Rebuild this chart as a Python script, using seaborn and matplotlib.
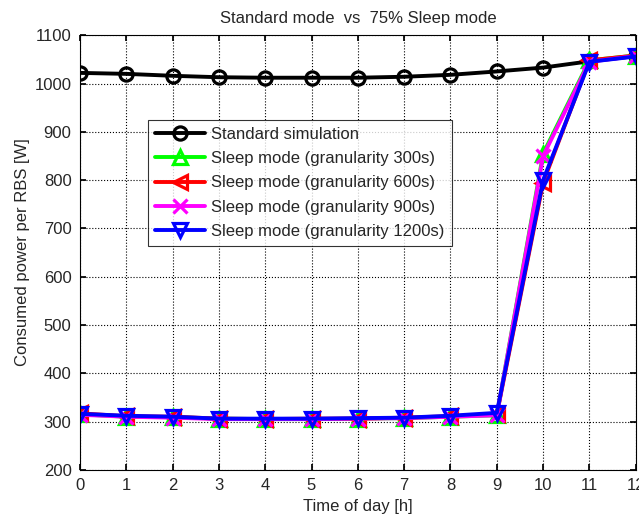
import numpy as np
import pandas as pd
import seaborn as sns
import matplotlib.pyplot as plt

sns.set_theme(style="white")
plt.rcParams['font.family'] = ['Liberation Sans', 'DejaVu Sans']

hours = [0, 1, 2, 3, 4, 5, 6, 7, 8, 9, 10, 11, 12]
standard = [1022, 1020, 1016, 1013, 1012, 1012, 1012, 1014, 1018, 1025, 1033, 1046, 1057]
sleep_300 = [315, 310, 309, 306, 305, 305, 306, 307, 310, 313, 855, 1048, 1058]
sleep_600 = [317, 311, 310, 306, 305, 306, 306, 308, 311, 315, 795, 1048, 1058]
sleep_900 = [314, 310, 308, 305, 305, 305, 306, 307, 310, 313, 850, 1045, 1057]
sleep_1200 = [316, 312, 310, 306, 306, 306, 307, 308, 312, 318, 800, 1045, 1056]

series = [
    ("Standard simulation", standard, "black", "o"),
    ("Sleep mode (granularity 300s)", sleep_300, "#00ff00", "^"),
    ("Sleep mode (granularity 600s)", sleep_600, "#ff0000", "<"),
    ("Sleep mode (granularity 900s)", sleep_900, "#ff00ff", "x"),
    ("Sleep mode (granularity 1200s)", sleep_1200, "#0000ff", "v"),
]

fig = plt.figure(figsize=(6.39, 5.18), dpi=100)
ax = fig.add_axes([0.125, 0.093, 0.87, 0.839])

for label, vals, col, mk in series:
    df = pd.DataFrame({"h": hours, "p": vals})
    sns.lineplot(data=df, x="h", y="p", ax=ax, color=col, marker=mk,
                 markersize=9.5, markerfacecolor="none", markeredgecolor=col,
                 markeredgewidth=2.3, linewidth=2.8, label=label)

ax.set_xlim(0, 12)
ax.set_ylim(200, 1100)
ax.set_xticks(range(0, 13))
ax.set_yticks(range(200, 1101, 100))
ax.grid(True, color="black", linestyle=":", linewidth=0.8)
for s in ax.spines.values():
    s.set_color("black")
    s.set_linewidth(0.8)
ax.tick_params(direction="in", length=4, color="black", labelsize=12,
               top=True, right=True, bottom=True, left=True, pad=6)

ax.set_title("Standard mode  vs  75% Sleep mode", fontsize=12, pad=9)
ax.set_xlabel("Time of day [h]", fontsize=12, labelpad=4)
ax.set_ylabel("Consumed power per RBS [W]", fontsize=12, labelpad=3)

leg = ax.legend(loc="upper left", bbox_to_anchor=(0.122, 0.806), fontsize=12,
                handlelength=3.0, frameon=True, fancybox=False, borderaxespad=0,
                borderpad=0.45, labelspacing=0.55, handletextpad=0.35)
leg.get_frame().set_edgecolor("black")
leg.get_frame().set_linewidth(0.8)

fig.savefig("out.png", dpi=100)
